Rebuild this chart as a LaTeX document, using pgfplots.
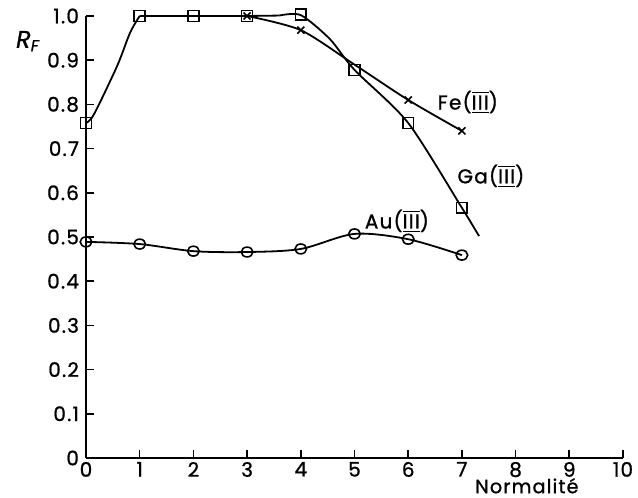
\documentclass[border=0pt]{standalone}
\usepackage{fontspec}
\setmainfont{Poppins}[LetterSpace=6, FakeBold=1]
\usepackage{pgfplots}
\pgfplotsset{compat=1.18}
\newcommand{\III}{\ensuremath{\overline{\underline{\hbox{III}}}}}
\begin{document}
\fontsize{10}{12}\selectfont
\begin{tikzpicture}
\begin{axis}[
  scale only axis,
  width=268.5pt, height=221pt,
  xmin=0, xmax=10, ymin=0, ymax=1,
  axis lines=left,
  axis line style={-, line width=0.9pt},
  tick align=inside,
  major tick length=4pt,
  tick style={line width=0.8pt, black},
  xtick={0,1,...,10},
  ytick={0,0.1,...,1.0},
  yticklabels={0,0.1,0.2,0.3,0.4,0.5,0.6,0.7,0.8,0.9,1.0},
  /pgf/number format/assume math mode=true,
  ticklabel style={font=\fontsize{10}{12}\selectfont},
  xticklabel style={yshift=1.5pt},
  clip=false,
  every axis plot/.append style={line width=0.9pt, black},
]
\coordinate (SW) at (rel axis cs:0,0);
\coordinate (NE) at (rel axis cs:1,1);
% Ga(III) line pieces
\addplot[smooth, tension=0.5, mark=none]
 coordinates {(0,0.758) (0.15,0.778) (0.58,0.887) (0.82,0.962) (1,1.0)};
\addplot[mark=none] coordinates {(1,1.0) (2,1.0) (3,1.0) (3.6,1.001)};
\addplot[smooth, tension=0.45, mark=none]
 coordinates {(3.6,1.001) (4,1.002) (4.54,0.948) (5,0.878) (6,0.758) (7,0.566) (7.32,0.502)};
% Ga(III) marks
\addplot[only marks, mark=square, mark size=2.7pt, mark options={fill=white, line width=0.8pt}]
 coordinates {(0,0.758) (1,1.0) (2,1.0) (3,1.0) (4,1.003) (5,0.878) (6,0.758) (7,0.566)};
% Fe(III)
\addplot[smooth, tension=0.45, mark=x, mark size=2.5pt, mark options={line width=0.8pt},
  mark indices={1,2,4,5}]
 coordinates {(3,1.0) (4,0.968) (5,0.89) (6,0.81) (7,0.74)};
% Au(III)
\addplot[smooth, tension=0.5, mark=o, mark size=2.9pt, mark options={fill=white, line width=0.8pt, yscale=0.85}]
 coordinates {(0,0.489) (1,0.484) (2,0.468) (3,0.466) (4,0.473) (5,0.507) (6,0.495) (7,0.459)};
\node at (axis cs:7.11,0.805) {Fe(\III)};
\node at (axis cs:7.54,0.638) {Ga(\III)};
\node at (axis cs:5.79,0.536) {Au(\III)};
\node at (axis cs:8.21,0) [anchor=base, yshift=-17.6pt, font=\fontsize{9.6}{11}\selectfont] {Normalité};
\node at (axis cs:0,0.943) [xshift=-29pt] {\fontsize{12}{14}\selectfont\itshape R\textsubscript{F}};
\end{axis}
\pgfresetboundingbox
\path[use as bounding box] ([shift={(-43pt,-20pt)}]SW) rectangle ([shift={(7.5pt,8pt)}]NE);
\end{tikzpicture}
\end{document}
